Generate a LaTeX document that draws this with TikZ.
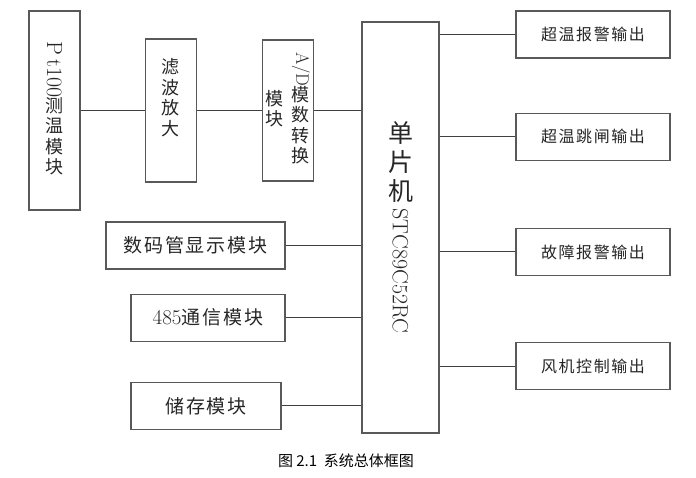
\documentclass[tikz,border=0pt]{standalone}
\usepackage{fontspec}
\usepackage{graphicx}
\newfontfamily\cjk{Noto Sans CJK SC}
\newfontfamily\cjkwide[LetterSpace=10]{Noto Sans CJK SC}
\usetikzlibrary{positioning}

% vertical text: one column, Latin turned clockwise
\newcommand{\vcol}[1]{\begin{tabular}[c]{@{}c@{}}#1\end{tabular}}
\newcommand{\vlat}[1]{\rotatebox[origin=c]{-90}{\rmfamily #1}}

\begin{document}
\begin{tikzpicture}[x=1pt, y=-1pt,
        block/.style={rectangle, draw=black!65, line width=1.2pt, inner sep=0pt, text=black!85},
        vblock/.style={block, minimum width=51pt, font=\cjk\fontsize{18}{18}\selectfont},
        outbox/.style={block, minimum width=154pt, minimum height=47pt, font=\cjkwide\fontsize{16}{16}\selectfont},
        inbox/.style={block, minimum height=47pt, font=\cjkwide\fontsize{19}{19}\selectfont},
        wire/.style={draw=black!75, line width=1pt}
    ]
        \useasboundingbox (0,0) rectangle (696,477);

        % Sensor chain
        \node[vblock, minimum height=199pt] (pt) at (54.5,110.5) {\vcol{\vlat{\fontsize{22}{22}\selectfont P\,t100}\\测\\温\\模\\块}};
        \node[vblock, minimum height=143pt, right=64pt of pt] (filter) {\vcol{滤\\波\\放\\大\\[22pt]}};
        \node[vblock, minimum height=141pt, right=65pt of filter] (ad) {%
            \begin{tabular}{@{}c@{\hspace{8pt}}c@{}}\vcol{模\\块} & \vcol{\vlat{A/D}\\模\\数\\转\\换}\end{tabular}};

        % Controller
        \node[block, minimum width=77pt, minimum height=411pt, font=\cjk\fontsize{25}{27}\selectfont] (mcu) at (400.5,227.5)
            {\vcol{单\\片\\机\\\vlat{\fontsize{22}{22}\selectfont STC89C52RC}}};

        % Outputs
        \node[outbox] (out1) at (593,34.5) {超温报警输出};
        \node[outbox, below=54pt of out1] (out2) {超温跳闸输出};
        \node[outbox, below=67pt of out2] (out3) {故障报警输出};
        \node[outbox, below=66pt of out3] (out4) {风机控制输出};

        % Peripherals
        \node[inbox, minimum width=179pt] (disp) at (195.5,245.5) {数码管显示模块};
        \node[inbox, minimum width=154pt, below=24pt of disp.south east, anchor=north east] (comm) {{\rmfamily\fontsize{21}{21}\selectfont 485}通信模块};
        \node[inbox, minimum width=150pt, below=40pt of comm.south east, anchor=north east, xshift=-4pt] (store) {储存模块};

        % Caption
        \node[font=\cjk\fontsize{15}{15}\selectfont] (caption) at (346,461) {图 2.1\ \ 系统总体框图};

        % Connectors
        \draw[wire] (pt) -- (filter);
        \draw[wire] (filter) -- (ad);
        \draw[wire] (ad.east) -- (ad.east -| mcu.west);
        \foreach \o in {out1,out2,out3,out4}
            \draw[wire] (mcu.east |- \o.west) -- (\o.west);
        \foreach \i in {disp,comm,store}
            \draw[wire] (\i.east) -- (\i.east -| mcu.west);

    \end{tikzpicture}
\end{document}
